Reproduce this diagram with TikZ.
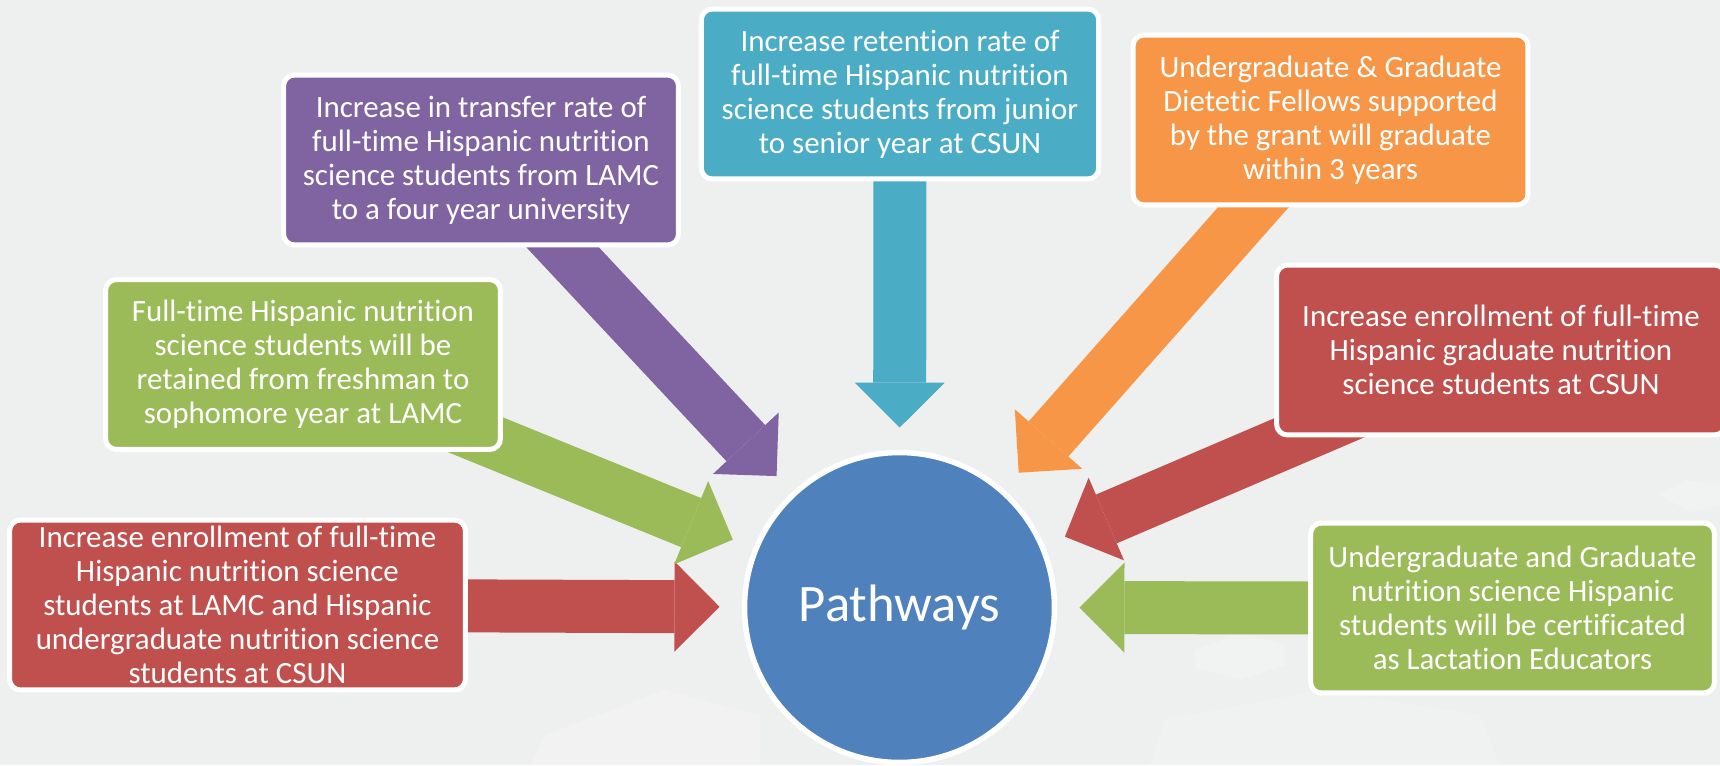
\documentclass[tikz,border=0pt]{standalone}
\usepackage{fontspec}
\setmainfont{Carlito}[Ligatures={NoCommon}]
\usetikzlibrary{arrows.meta,backgrounds}
\definecolor{bgray}{RGB}{238,240,239}
\definecolor{gpurple}{HTML}{8064A2}
\definecolor{gteal}{HTML}{4BACC6}
\definecolor{gorange}{HTML}{F79646}
\definecolor{gred}{HTML}{C0504D}
\definecolor{ggreen}{HTML}{9BBB59}
\definecolor{gblue}{HTML}{4F81BD}
\tikzset{
	goal/.style={rectangle, rounded corners=0.22cm, draw=white, line width=0.1cm, text=white, align=center, inner sep=0pt, minimum height=3.4cm, font=\fontsize{17.6}{19.4}\selectfont},
	fatarrow/.style={line width=1.06cm, -{Triangle[width=1.8cm,length=0.9cm,line width=0pt]}},
}
\begin{document}
\begin{tikzpicture}[x=0.02cm, y=-0.02cm]
		\useasboundingbox (0,0) rectangle (1720,765);

		\node[circle, fill=gblue, draw=white, line width=0.11cm, minimum size=6.2cm, outer sep=0.5cm, text=white, font=\fontsize{30}{34}\selectfont] (pathways) at (899.5,607.5) {Pathways};

		\node[goal, fill=gpurple, minimum width=7.9cm] (transfer) at (481,160) {Increase in transfer rate of\\full-time Hispanic nutrition\\science students from LAMC\\to a four year university};
		\node[goal, fill=gteal, minimum width=7.95cm] (retention) at (900,94) {Increase retention rate of\\full-time Hispanic nutrition\\science students from junior\\to senior year at CSUN};
		\node[goal, fill=gorange, minimum width=7.9cm] (fellows) at (1330.5,120) {Undergraduate \& Graduate\\Dietetic Fellows supported\\by the grant will graduate\\within 3 years};
		\node[goal, fill=gred, minimum width=8.98cm] (gradenroll) at (1501,350) {Increase enrollment of full-time\\Hispanic graduate nutrition\\science students at CSUN};
		\node[goal, fill=ggreen, minimum width=8.08cm] (lactation) at (1512.5,608) {Undergraduate and Graduate\\nutrition science Hispanic\\students will be certificated\\as Lactation Educators};
		\node[goal, fill=gred, minimum width=9.12cm] (enroll) at (237.5,605) {Increase enrollment of full-time\\Hispanic nutrition science\\students at LAMC and Hispanic\\undergraduate nutrition science\\students at CSUN};
		\node[goal, fill=ggreen, minimum width=7.9cm] (retained) at (303,364.5) {Full-time Hispanic nutrition\\science students will be\\retained from freshman to\\sophomore year at LAMC};

		\begin{scope}[on background layer]
			\fill[bgray] (0,0) rectangle (1720,765);
			\fill[white, opacity=0.18] (530,765) -- (545,735) -- (665,690) -- (760,715) -- (760,765) -- cycle;
			\fill[white, opacity=0.2] (1195,650) -- (1240,633) -- (1285,645) -- (1285,665) -- (1240,680) -- (1195,668) -- cycle;
			\fill[white, opacity=0.15] (1150,765) -- (1165,720) -- (1320,690) -- (1480,715) -- (1500,765) -- cycle;
			\fill[white, opacity=0.2] (1660,495) -- (1685,480) -- (1720,485) -- (1720,505) -- (1690,512) -- cycle;

			\draw[fatarrow, gpurple] (transfer.center) -- (pathways);
			\draw[fatarrow, gteal] (retention.center) -- (pathways);
			\draw[fatarrow, gorange] (fellows.center) -- (pathways);
			\draw[fatarrow, gred] (gradenroll.center) -- (pathways);
			\draw[fatarrow, ggreen] (lactation.center) -- (pathways);
			\draw[fatarrow, gred] (enroll.center) -- (pathways);
			\draw[fatarrow, ggreen] (retained.center) -- (pathways);
		\end{scope}
	\end{tikzpicture}
\end{document}
